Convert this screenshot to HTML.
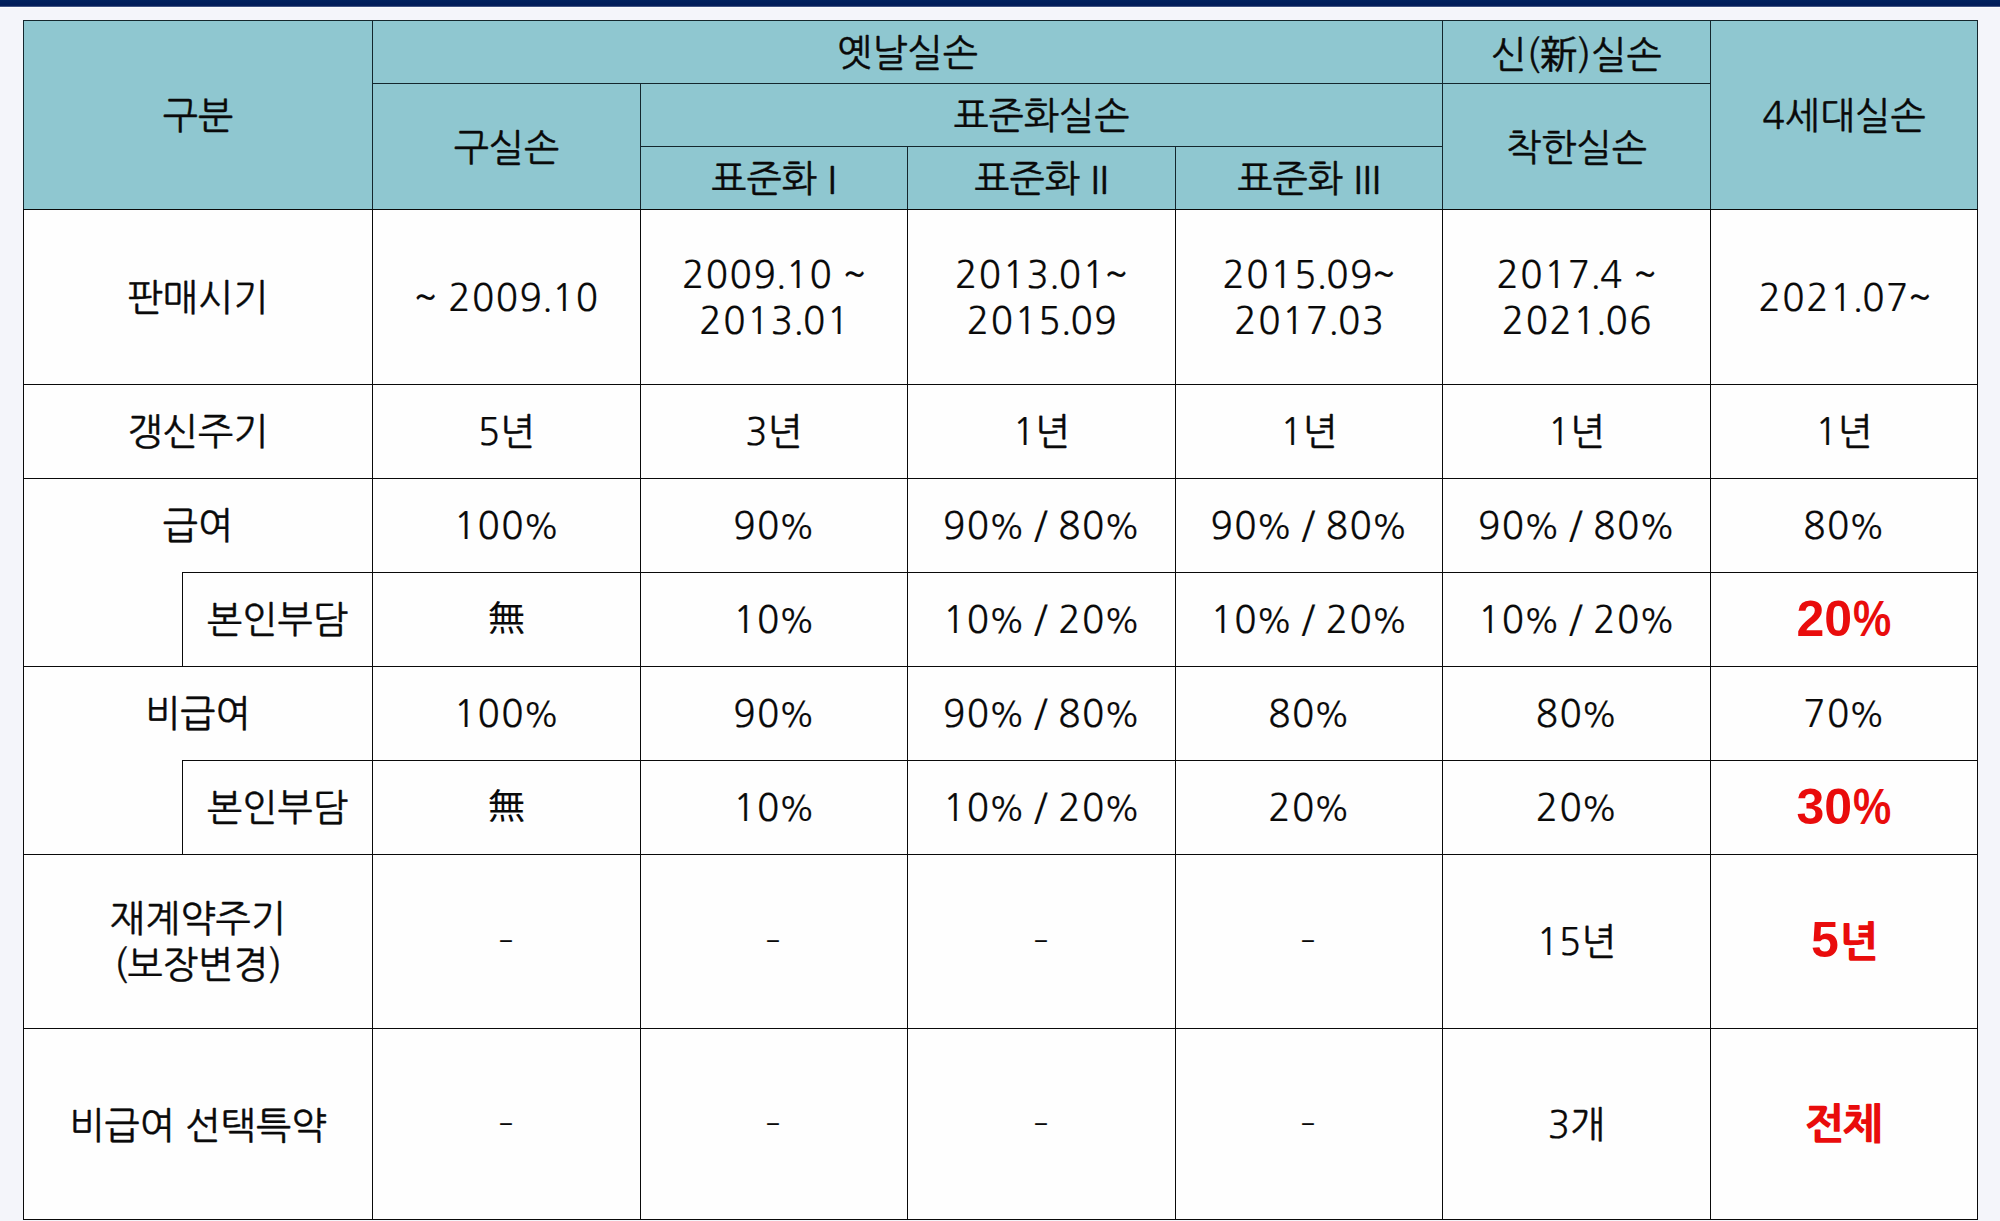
<!DOCTYPE html>
<html lang="ko">
<head>
<meta charset="utf-8">
<title>실손보험 세대별 비교</title>
<style>
html,body{margin:0;padding:0;}
body{width:2000px;height:1221px;overflow:hidden;background:#f4f5fa;position:relative;
font-family:"NanumGothic","Noto Sans CJK KR",sans-serif;font-size:37.5px;color:#0a0a0a;-webkit-text-stroke:0.4px #0a0a0a;}
.bar{position:absolute;left:0;top:0;width:2000px;height:7px;background:linear-gradient(#02225f 0,#011c59 5px,#0a2360 6px,#7a86a8 7px);}
.hl{position:absolute;left:0;top:7px;width:2000px;height:1px;background:#fbfdff;}
.tb{position:absolute;left:23px;top:20px;width:1955px;height:1200px;background:#fefefe;}
.hd{position:absolute;left:23px;top:20px;width:1955px;height:189px;background:#8fc7d0;}
.c{position:absolute;display:flex;align-items:center;justify-content:center;text-align:center;line-height:46px;white-space:nowrap;}
.c span{display:block;}
.c i{font-style:normal;-webkit-text-stroke:0.2px #0a0a0a;font-size:36.8px;letter-spacing:1.5px;word-spacing:-2.65px;position:relative;top:1px;}
.c i.m{letter-spacing:0;top:0;}
.c i.k{font-size:37.5px;letter-spacing:0;top:0;-webkit-text-stroke:0;display:inline-block;transform:scaleY(0.94);}
.c i.d{display:inline-block;letter-spacing:0;top:0;transform:scale(1.2,0.67);}
.c b{font-weight:normal;font-size:34px;margin-left:-2.5px;letter-spacing:-0.5px;}
.c s{text-decoration:none;margin-left:-2px;}
.c u{text-decoration:none;margin-left:-1.6px;letter-spacing:-1.06px;position:relative;top:-1.5px;}
.r,.r i{-webkit-text-stroke:0 transparent;}
.r{color:#e90c0c;font-family:"Liberation Sans","NanumGothic",sans-serif;font-weight:800;font-size:42.2px;letter-spacing:-1.5px;-webkit-text-stroke:0;}
.c i.e{font-size:50px;letter-spacing:0;word-spacing:0;top:0;}
.r b{font-weight:800;font-size:50px;display:inline-block;transform:scaleX(0.86);margin:0 -3px 0 -2px;letter-spacing:0;}
.v,.z{position:absolute;background:#0a0a0a;}
.v{width:1px;}
.g{background:#14262d;}
.z{height:1px;}
</style>
</head>
<body>
<div class="bar"></div>
<div class="hl"></div>
<div class="tb"></div>
<div class="hd"></div>

<div class="c" id="h_gubun" style="left:24px;top:22px;width:348px;height:188px"><span>구분</span></div>
<div class="c" id="h_old" style="left:373px;top:22px;width:1069px;height:62px"><span>옛날실손</span></div>
<div class="c" id="h_new" style="left:1443px;top:24px;width:267px;height:62px"><span>신(新)실손</span></div>
<div class="c" id="h_4g" style="left:1711px;top:22px;width:266px;height:188px"><span>4세대실손</span></div>
<div class="c" id="h_gu" style="left:373px;top:85px;width:267px;height:125px"><span>구실손</span></div>
<div class="c" id="h_std" style="left:641px;top:85px;width:801px;height:62px"><span>표준화실손</span></div>
<div class="c" id="h_s1" style="left:641px;top:148px;width:266px;height:62px"><span>표준화 I</span></div>
<div class="c" id="h_s2" style="left:908px;top:148px;width:267px;height:62px"><span>표준화 II</span></div>
<div class="c" id="h_s3" style="left:1176px;top:148px;width:266px;height:62px"><span>표준화 III</span></div>
<div class="c" id="h_good" style="left:1443px;top:85px;width:267px;height:125px"><span>착한실손</span></div>
<div class="c" id="r3_c0" style="left:24px;top:211px;width:348px;height:174px"><span>판매시기</span></div>
<div class="c" id="r3_c1" style="left:373px;top:210px;width:267px;height:174px"><span><i>~ 2009<u>.</u>10</i></span></div>
<div class="c" id="r3_c2" style="left:642px;top:210px;width:266px;height:174px"><span><i>2009<u>.</u>10 ~</i><br><i>2013<u>.</u>01</i></span></div>
<div class="c" id="r3_c3" style="left:909px;top:210px;width:267px;height:174px"><span><i>2013<u>.</u>01<s>~</s></i><br><i>2015<u>.</u>09</i></span></div>
<div class="c" id="r3_c4" style="left:1177px;top:210px;width:266px;height:174px"><span><i>2015<u>.</u>09<s>~</s></i><br><i>2017<u>.</u>03</i></span></div>
<div class="c" id="r3_c5" style="left:1444px;top:210px;width:267px;height:174px"><span><i>2017<u>.</u>4 ~</i><br><i>2021<u>.</u>06</i></span></div>
<div class="c" id="r3_c6" style="left:1713px;top:210px;width:266px;height:174px"><span><i>2021<u>.</u>07<s>~</s></i></span></div>
<div class="c" id="r4_c0" style="left:24px;top:385px;width:348px;height:93px"><span>갱신주기</span></div>
<div class="c" id="r4_c1" style="left:373px;top:385px;width:267px;height:93px"><span><i class="m">5</i>년</span></div>
<div class="c" id="r4_c2" style="left:641px;top:385px;width:266px;height:93px"><span><i class="m">3</i>년</span></div>
<div class="c" id="r4_c3" style="left:908px;top:385px;width:267px;height:93px"><span><i class="m">1</i>년</span></div>
<div class="c" id="r4_c4" style="left:1176px;top:385px;width:266px;height:93px"><span><i class="m">1</i>년</span></div>
<div class="c" id="r4_c5" style="left:1443px;top:385px;width:267px;height:93px"><span><i class="m">1</i>년</span></div>
<div class="c" id="r4_c6" style="left:1711px;top:385px;width:266px;height:93px"><span><i class="m">1</i>년</span></div>
<div class="c" id="r5_c0" style="left:24px;top:479px;width:348px;height:93px"><span>급여</span></div>
<div class="c" id="r5_c1" style="left:373px;top:479px;width:267px;height:93px"><span><i>100<b>%</b></i></span></div>
<div class="c" id="r5_c2" style="left:641px;top:479px;width:266px;height:93px"><span><i>90<b>%</b></i></span></div>
<div class="c" id="r5_c3" style="left:908px;top:479px;width:267px;height:93px"><span><i>90<b>%</b> / 80<b>%</b></i></span></div>
<div class="c" id="r5_c4" style="left:1176px;top:479px;width:266px;height:93px"><span><i>90<b>%</b> / 80<b>%</b></i></span></div>
<div class="c" id="r5_c5" style="left:1443px;top:479px;width:267px;height:93px"><span><i>90<b>%</b> / 80<b>%</b></i></span></div>
<div class="c" id="r5_c6" style="left:1711px;top:479px;width:266px;height:93px"><span><i>80<b>%</b></i></span></div>
<div class="c" id="r6_c0" style="left:183px;top:573px;width:189px;height:93px"><span>본인부담</span></div>
<div class="c" id="r6_c1" style="left:373px;top:572px;width:267px;height:93px"><span><i class="k">無</i></span></div>
<div class="c" id="r6_c2" style="left:641px;top:573px;width:266px;height:93px"><span><i>10<b>%</b></i></span></div>
<div class="c" id="r6_c3" style="left:908px;top:573px;width:267px;height:93px"><span><i>10<b>%</b> / 20<b>%</b></i></span></div>
<div class="c" id="r6_c4" style="left:1176px;top:573px;width:266px;height:93px"><span><i>10<b>%</b> / 20<b>%</b></i></span></div>
<div class="c" id="r6_c5" style="left:1443px;top:573px;width:267px;height:93px"><span><i>10<b>%</b> / 20<b>%</b></i></span></div>
<div class="c r" id="r6_c6" style="left:1711px;top:574px;width:266px;height:93px"><span><i class="e">20<b>%</b></i></span></div>
<div class="c" id="r7_c0" style="left:24px;top:667px;width:348px;height:93px"><span>비급여</span></div>
<div class="c" id="r7_c1" style="left:373px;top:667px;width:267px;height:93px"><span><i>100<b>%</b></i></span></div>
<div class="c" id="r7_c2" style="left:641px;top:667px;width:266px;height:93px"><span><i>90<b>%</b></i></span></div>
<div class="c" id="r7_c3" style="left:908px;top:667px;width:267px;height:93px"><span><i>90<b>%</b> / 80<b>%</b></i></span></div>
<div class="c" id="r7_c4" style="left:1176px;top:667px;width:266px;height:93px"><span><i>80<b>%</b></i></span></div>
<div class="c" id="r7_c5" style="left:1443px;top:667px;width:267px;height:93px"><span><i>80<b>%</b></i></span></div>
<div class="c" id="r7_c6" style="left:1711px;top:667px;width:266px;height:93px"><span><i>70<b>%</b></i></span></div>
<div class="c" id="r8_c0" style="left:183px;top:761px;width:189px;height:93px"><span>본인부담</span></div>
<div class="c" id="r8_c1" style="left:373px;top:760px;width:267px;height:93px"><span><i class="k">無</i></span></div>
<div class="c" id="r8_c2" style="left:641px;top:761px;width:266px;height:93px"><span><i>10<b>%</b></i></span></div>
<div class="c" id="r8_c3" style="left:908px;top:761px;width:267px;height:93px"><span><i>10<b>%</b> / 20<b>%</b></i></span></div>
<div class="c" id="r8_c4" style="left:1176px;top:761px;width:266px;height:93px"><span><i>20<b>%</b></i></span></div>
<div class="c" id="r8_c5" style="left:1443px;top:761px;width:267px;height:93px"><span><i>20<b>%</b></i></span></div>
<div class="c r" id="r8_c6" style="left:1711px;top:762px;width:266px;height:93px"><span><i class="e">30<b>%</b></i></span></div>
<div class="c" id="r9_c0" style="left:24px;top:855px;width:348px;height:173px"><span>재계약주기<br>(보장변경)</span></div>
<div class="c" id="r9_c1" style="left:372px;top:855px;width:267px;height:173px"><span><i class="d">-</i></span></div>
<div class="c" id="r9_c2" style="left:640px;top:855px;width:266px;height:173px"><span><i class="d">-</i></span></div>
<div class="c" id="r9_c3" style="left:907px;top:855px;width:267px;height:173px"><span><i class="d">-</i></span></div>
<div class="c" id="r9_c4" style="left:1175px;top:855px;width:266px;height:173px"><span><i class="d">-</i></span></div>
<div class="c" id="r9_c5" style="left:1443px;top:855px;width:267px;height:173px"><span><i class="m">15</i>년</span></div>
<div class="c r" id="r9_c6" style="left:1711px;top:855px;width:266px;height:173px"><span><i class="e">5</i>년</span></div>
<div class="c" id="r10_c0" style="left:24px;top:1031px;width:348px;height:190px"><span>비급여 선택특약</span></div>
<div class="c" id="r10_c1" style="left:372px;top:1030px;width:267px;height:190px"><span><i class="d">-</i></span></div>
<div class="c" id="r10_c2" style="left:640px;top:1030px;width:266px;height:190px"><span><i class="d">-</i></span></div>
<div class="c" id="r10_c3" style="left:907px;top:1030px;width:267px;height:190px"><span><i class="d">-</i></span></div>
<div class="c" id="r10_c4" style="left:1175px;top:1030px;width:266px;height:190px"><span><i class="d">-</i></span></div>
<div class="c" id="r10_c5" style="left:1443px;top:1030px;width:267px;height:190px"><span><i class="m">3</i>개</span></div>
<div class="c r" id="r10_c6" style="left:1710px;top:1030px;width:266px;height:190px"><span>전체</span></div>
<div class="v g" style="left:23px;top:20px;height:189px"></div>
<div class="v" style="left:23px;top:209px;height:1011px"></div>
<div class="v g" style="left:1977px;top:20px;height:189px"></div>
<div class="v" style="left:1977px;top:209px;height:1011px"></div>
<div class="v g" style="left:372px;top:20px;height:189px"></div>
<div class="v" style="left:372px;top:209px;height:1011px"></div>
<div class="v g" style="left:640px;top:83px;height:126px"></div>
<div class="v" style="left:640px;top:209px;height:1011px"></div>
<div class="v g" style="left:907px;top:146px;height:63px"></div>
<div class="v" style="left:907px;top:209px;height:1011px"></div>
<div class="v g" style="left:1175px;top:146px;height:63px"></div>
<div class="v" style="left:1175px;top:209px;height:1011px"></div>
<div class="v g" style="left:1442px;top:20px;height:189px"></div>
<div class="v" style="left:1442px;top:209px;height:1011px"></div>
<div class="v g" style="left:1710px;top:20px;height:189px"></div>
<div class="v" style="left:1710px;top:209px;height:1011px"></div>
<div class="v" style="left:182px;top:572px;height:95px"></div>
<div class="v" style="left:182px;top:760px;height:95px"></div>
<div class="z g" style="top:20px;left:23px;width:1955px"></div>
<div class="z" style="top:1219px;left:23px;width:1955px"></div>
<div class="z g" style="top:83px;left:372px;width:1339px"></div>
<div class="z g" style="top:146px;left:640px;width:803px"></div>
<div class="z" style="top:209px;left:23px;width:1955px"></div>
<div class="z" style="top:384px;left:23px;width:1955px"></div>
<div class="z" style="top:478px;left:23px;width:1955px"></div>
<div class="z" style="top:666px;left:23px;width:1955px"></div>
<div class="z" style="top:854px;left:23px;width:1955px"></div>
<div class="z" style="top:1028px;left:23px;width:1955px"></div>
<div class="z" style="top:572px;left:182px;width:1796px"></div>
<div class="z" style="top:760px;left:182px;width:1796px"></div>
</body>
</html>
